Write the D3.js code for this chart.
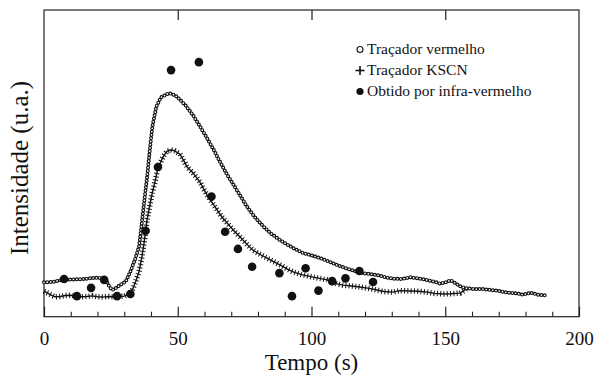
<!DOCTYPE html>
<html>
<head>
<meta charset="utf-8">
<script src="https://cdn.jsdelivr.net/npm/d3@7"></script>
<style>
  html, body { margin: 0; padding: 0; background: #fff; }
  svg { display: block; }
</style>
</head>
<body>
<svg id="chart" width="596" height="375"></svg>
<script>
// ---------- data ----------
const redTime = [0, 3, 6, 9, 12, 15, 18, 20, 22, 23, 24.3, 25.5, 27, 28.5, 30.5, 32.3, 34.2, 35.5, 36.1, 37.0, 37.8, 38.6, 39.5, 40.5, 42, 43.7, 46.7, 49, 51, 53, 55.7, 58.5, 60.9, 63.5, 65.8, 68, 70.7, 73, 75.8, 78.5, 81.9, 85, 88.2, 91, 93.1, 96.8, 100, 103.2, 107, 110, 113, 116, 119, 122, 125, 128, 131, 134, 137, 140, 143, 146, 148, 150, 152, 154, 156, 158, 161, 164, 167, 170, 173, 176, 179, 182, 185, 188];
const redValue = [11.2, 11.3, 11.9, 12.1, 12.2, 12.3, 12.6, 12.7, 12.6, 12.3, 10.0, 8.7, 9.4, 10.4, 11.4, 14.7, 19.1, 22.8, 27.0, 34.0, 40.0, 46.0, 54.0, 62.0, 68.5, 71.5, 72.9, 72.2, 70.6, 68.8, 65.7, 61.8, 58.3, 54.3, 50.5, 47.0, 43.2, 40.0, 36.0, 32.8, 29.5, 27.0, 25.0, 23.5, 22.4, 20.8, 20.0, 19.1, 17.8, 16.7, 15.8, 14.9, 14.2, 13.9, 13.5, 12.8, 12.4, 12.3, 12.9, 12.5, 12.0, 11.4, 10.8, 11.2, 11.9, 10.8, 9.7, 9.3, 9.0, 9.0, 8.7, 8.4, 7.9, 7.7, 7.2, 7.8, 7.1, 6.9];

const kscnTime = [0, 2, 4, 6, 8, 10, 12, 14, 16, 18, 20, 22, 24, 26, 28, 30, 32, 33, 34.3, 35.5, 36.5, 37.4, 38.5, 39.6, 40.5, 41.5, 42.6, 44.5, 46, 47.5, 49, 50.8, 52.5, 53.5, 55.7, 58.3, 60.9, 63, 64.7, 66.5, 68.4, 71, 73.3, 76, 78.1, 81, 83.4, 86, 88.2, 91, 93.1, 96, 98, 100.6, 103, 105.8, 108, 110, 111.8, 115, 118, 121, 124.5, 127, 130.5, 133, 136.8, 140, 143.2, 146, 149.2, 152, 155.5, 157, 158.5];
const kscnValue = [8.3, 7.4, 6.5, 6.6, 6.9, 7.0, 6.7, 6.5, 6.6, 6.8, 6.5, 6.4, 6.6, 6.5, 6.6, 6.7, 7.6, 8.7, 11.5, 14.6, 19.0, 24.0, 31.5, 36.5, 40.5, 44.0, 48.5, 52.1, 54.0, 54.4, 54.0, 53.0, 50.5, 48.8, 46.9, 43.9, 39.7, 37.0, 34.8, 32.5, 30.6, 28.0, 26.0, 23.5, 21.7, 20.2, 19.1, 17.9, 16.9, 15.5, 14.6, 13.8, 13.4, 12.9, 12.5, 12.0, 11.2, 10.6, 10.3, 10.0, 9.7, 9.3, 8.7, 8.2, 8.0, 8.5, 8.4, 8.3, 8.0, 7.6, 7.4, 7.5, 7.7, 8.5, 9.6];

const irTime = [7.5, 12.3, 17.6, 22.5, 27.3, 32.3, 38.0, 42.6, 47.5, 57.9, 62.6, 67.7, 72.5, 77.8, 88.0, 92.7, 97.8, 102.6, 107.7, 112.7, 117.9, 123.0];
const irValue = [12.3, 6.7, 9.4, 12.0, 6.7, 7.4, 28.0, 48.8, 80.4, 83.0, 39.2, 27.7, 22.1, 16.3, 14.2, 6.7, 15.8, 8.5, 11.6, 12.5, 14.9, 11.3];

const xMajorTicks = [0, 50, 100, 150, 200];
const xMinorTicks = [10, 20, 30, 40, 60, 70, 80, 90, 110, 120, 130, 140, 160, 170, 180, 190];
const xTopTicks = [50, 100, 150];
const legendLabels = ["Traçador vermelho", "Traçador KSCN", "Obtido por infra-vermelho"];
const xTitle = "Tempo (s)";
const yTitle = "Intensidade (u.a.)";

// ---------- layout ----------
const svg = d3.select("#chart");
const m = { left: 44, top: 10, right: 579, bottom: 316.7 };
const x = d3.scaleLinear().domain([0, 200]).range([m.left, m.right]);
const y = d3.scaleLinear().domain([0, 100]).range([m.bottom, m.top]);
const font = "'Liberation Serif', 'Times New Roman', serif";
const ink = "#111";

// frame
svg.append("rect")
  .attr("x", m.left).attr("y", m.top)
  .attr("width", m.right - m.left).attr("height", m.bottom - m.top)
  .attr("fill", "none").attr("stroke", "#222").attr("stroke-width", 1.2);

// bottom axis (major, with labels)
const gB = svg.append("g").attr("transform", `translate(0,${m.bottom})`)
  .call(d3.axisBottom(x).tickValues(xMajorTicks).tickSizeInner(-10).tickSizeOuter(0).tickPadding(15).tickFormat(d3.format("d")));
gB.select(".domain").remove();
gB.selectAll("line").attr("stroke", "#222").attr("stroke-width", 1.2);
gB.selectAll("text").attr("font-family", font).attr("font-size", 19).attr("fill", ink);

// bottom minor ticks
const gBm = svg.append("g").attr("transform", `translate(0,${m.bottom})`)
  .call(d3.axisBottom(x).tickValues(xMinorTicks).tickSizeInner(-5).tickSizeOuter(0).tickFormat(""));
gBm.select(".domain").remove();
gBm.selectAll("line").attr("stroke", "#222").attr("stroke-width", 1.1);

// top ticks
const gT = svg.append("g").attr("transform", `translate(0,${m.top})`)
  .call(d3.axisTop(x).tickValues(xTopTicks).tickSizeInner(-10).tickSizeOuter(0).tickFormat(""));
gT.select(".domain").remove();
gT.selectAll("line").attr("stroke", "#222").attr("stroke-width", 1.2);

// axis titles
svg.append("text")
  .attr("x", (m.left + m.right) / 2).attr("y", 370)
  .attr("text-anchor", "middle")
  .attr("font-family", font).attr("font-size", 23).attr("fill", ink)
  .text(xTitle);
svg.append("text")
  .attr("transform", `translate(27.5,168) rotate(-90)`)
  .attr("text-anchor", "middle")
  .attr("font-family", font).attr("font-size", 25).attr("fill", ink)
  .text(yTitle);

// ---------- series ----------
const line = d3.line().x(d => x(d[0])).y(d => y(d[1])).curve(d3.curveLinear);
const redData = redTime.map((t, i) => [t, redValue[i]]);
const kscnData = kscnTime.map((t, i) => [t, kscnValue[i]]);

// KSCN: line with perpendicular cross bars (chain of "+" markers)
svg.append("path").datum(kscnData)
  .attr("d", line).attr("fill", "none")
  .attr("stroke", ink).attr("stroke-width", 1.4);
svg.append("path").datum(kscnData)
  .attr("d", line).attr("fill", "none")
  .attr("stroke", ink).attr("stroke-width", 5.5)
  .attr("stroke-dasharray", "1 2.3");

// red tracer: chain of open circles
svg.append("path").datum(redData)
  .attr("d", line).attr("fill", "none")
  .attr("stroke", ink).attr("stroke-width", 4)
  .attr("stroke-linecap", "round").attr("stroke-dasharray", "0 3.3");
svg.append("path").datum(redData)
  .attr("d", line).attr("fill", "none")
  .attr("stroke", "#fff").attr("stroke-width", 1.7)
  .attr("stroke-linecap", "round").attr("stroke-dasharray", "0 3.3");

// infrared: filled dots
svg.append("g").selectAll("circle")
  .data(irTime.map((t, i) => [t, irValue[i]]))
  .join("circle")
  .attr("cx", d => x(d[0])).attr("cy", d => y(d[1]))
  .attr("r", 4.3).attr("fill", ink);

// ---------- legend ----------
const lg = svg.append("g").attr("transform", "translate(360,0)");
const rowsY = [54, 75, 96];
legendLabels.forEach((lab, i) => {
  lg.append("text")
    .attr("x", 7).attr("y", rowsY[i])
    .attr("font-family", font).attr("font-size", 15.5).attr("fill", ink)
    .text(lab);
});
lg.append("circle").attr("cx", 0).attr("cy", rowsY[0] - 4.5).attr("r", 3)
  .attr("fill", "#fff").attr("stroke", ink).attr("stroke-width", 1.1);
lg.append("line").attr("x1", -4.5).attr("x2", 4.5).attr("y1", rowsY[1] - 4.5).attr("y2", rowsY[1] - 4.5)
  .attr("stroke", ink).attr("stroke-width", 1.6);
lg.append("line").attr("x1", 0).attr("x2", 0).attr("y1", rowsY[1] - 9).attr("y2", rowsY[1])
  .attr("stroke", ink).attr("stroke-width", 1.6);
lg.append("circle").attr("cx", 0).attr("cy", rowsY[2] - 4.5).attr("r", 3.6).attr("fill", ink);
</script>
</body>
</html>
